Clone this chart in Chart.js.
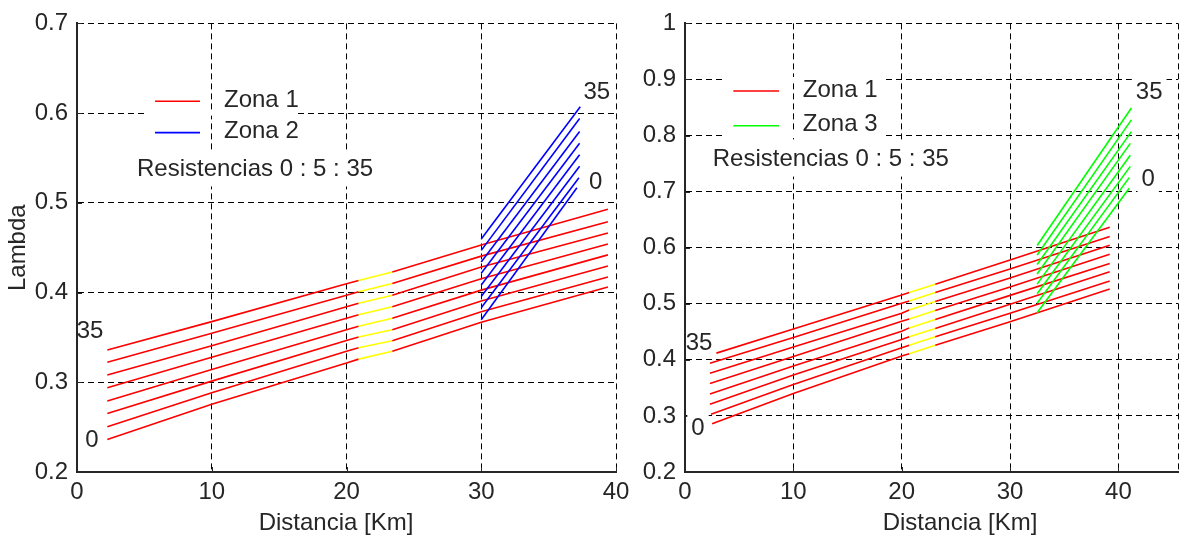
<!DOCTYPE html>
<html lang="es">
<head>
<meta charset="utf-8">
<title>Lambda vs Distancia</title>
<script src="https://cdn.jsdelivr.net/npm/chart.js@4.4.1/dist/chart.umd.min.js"></script>
<style>
  html, body { margin: 0; padding: 0; background: #fff; }
  body { width: 1182px; height: 539px; position: relative; overflow: hidden; }
  canvas { position: absolute; top: 0; }
  #graficoIzq { left: 0; }
  #graficoDer { left: 630px; }
</style>
</head>
<body>
<canvas id="graficoIzq" width="640" height="539"></canvas>
<canvas id="graficoDer" width="552" height="539"></canvas>
<script>
// Resistencias de falla de cada curva (0 : 5 : 35); las filas de las tablas siguen este orden
const resistencias = [0, 5, 10, 15, 20, 25, 30, 35];

// ---------- Gráfico izquierdo: Zona 1 y Zona 2 ----------
const distZona1Izq = [2.25, 10, 20, 20.9, 23.4, 30, 39.4];
const lambdaZona1Izq = [
  [0.2362, 0.2756, 0.3216, 0.3258, 0.3345, 0.3669, 0.4063],
  [0.2505, 0.2884, 0.3345, 0.3385, 0.3463, 0.3787, 0.4173],
  [0.2651, 0.3013, 0.3466, 0.3505, 0.3585, 0.3905, 0.4295],
  [0.2792, 0.3142, 0.3585, 0.3625, 0.3713, 0.4027, 0.4420],
  [0.2939, 0.3279, 0.3713, 0.3752, 0.3842, 0.4155, 0.4541],
  [0.3080, 0.3408, 0.3842, 0.3880, 0.3971, 0.4284, 0.4663],
  [0.3223, 0.3547, 0.3971, 0.4008, 0.4100, 0.4406, 0.4789],
  [0.3359, 0.3676, 0.4099, 0.4135, 0.4229, 0.4531, 0.4928]
];
const tramoAmarilloIzq = [20.9, 23.4];
const distZona2IniIzq = [30, 30, 30, 30, 30, 30, 30, 30];
const distZona2FinIzq = [37.1, 37.25, 37.3, 37.3, 37.3, 37.3, 37.3, 37.35];
const lambdaZona2IniIzq = [0.3698, 0.3830, 0.3955, 0.4085, 0.4215, 0.4340, 0.4470, 0.4597];
const lambdaZona2FinIzq = [0.5168, 0.5279, 0.5408, 0.5536, 0.5665, 0.5795, 0.5940, 0.6070];

// ---------- Gráfico derecho: Zona 1 y Zona 3 ----------
const distZona1IniDer = [2.5, 2.4, 2.3, 2.3, 2.3, 2.3, 2.3, 2.9];
const distZona1Der = [10, 20, 20.7, 23.1, 30, 39.2];
const lambdaZona1Der = [
  [0.286, 0.340, 0.4068, 0.411, 0.426, 0.468, 0.5264],
  [0.303, 0.356, 0.4215, 0.426, 0.441, 0.483, 0.5406],
  [0.321, 0.373, 0.4363, 0.441, 0.456, 0.499, 0.5570],
  [0.339, 0.389, 0.4510, 0.457, 0.472, 0.515, 0.5717],
  [0.358, 0.406, 0.4687, 0.473, 0.488, 0.530, 0.5882],
  [0.376, 0.423, 0.4833, 0.489, 0.504, 0.546, 0.6042],
  [0.394, 0.440, 0.5010, 0.505, 0.520, 0.562, 0.6201],
  [0.412, 0.455, 0.5158, 0.520, 0.535, 0.578, 0.6365]
];
const tramoAmarilloDer = [20.7, 23.1];
const distZona3IniDer = [32.5, 32.5, 32.5, 32.5, 32.5, 32.5, 32.5, 32.5];
const distZona3FinDer = [41.0, 41.0, 41.1, 41.1, 41.1, 41.2, 41.2, 41.2];
const lambdaZona3IniDer = [0.484, 0.501, 0.518, 0.535, 0.553, 0.570, 0.587, 0.604];
const lambdaZona3FinDer = [0.706, 0.725, 0.745, 0.765, 0.786, 0.807, 0.828, 0.849];

// ---------- Marcas de los ejes ----------
const ticksDistancia = [0, 10, 20, 30, 40];
const ticksLambdaIzq = [0.2, 0.3, 0.4, 0.5, 0.6, 0.7];
const ticksLambdaDer = [0.2, 0.3, 0.4, 0.5, 0.6, 0.7, 0.8, 0.9, 1];

// ---------- Estilo ----------
const ROJO = '#ff0000', AZUL = '#0000ff', VERDE = '#00ff00', AMARILLO = '#ffff00';
const TINTA = '#262626';
const FUENTE = '"Liberation Sans", Arial, Helvetica, sans-serif';
const TAM = 24;
const GUION = [6, 4];
const ANCHO_LINEA = 1.6;
const LARGO_MARCA = 5;

Chart.defaults.font.family = FUENTE;
Chart.defaults.font.size = TAM;
Chart.defaults.color = TINTA;

// Curvas de Zona 1: tramo central en amarillo
function curvasZona1(distPorFila, filas, tramo) {
  return filas.map((fila, i) => ({
    label: 'Zona 1 R=' + resistencias[i],
    data: distPorFila[i].map((d, j) => ({ x: d, y: fila[j] })),
    borderColor: ROJO,
    segment: {
      borderColor: c => (c.p0.parsed.x >= tramo[0] - 1e-9 && c.p1.parsed.x <= tramo[1] + 1e-9) ? AMARILLO : undefined
    }
  }));
}

// Curvas rectas de Zona 2 / Zona 3 (inicio y fin)
function curvasRectas(nombre, color, dIni, dFin, lIni, lFin) {
  return lIni.map((v, i) => ({
    label: nombre + ' R=' + resistencias[i],
    data: [{ x: dIni[i], y: v }, { x: dFin[i], y: lFin[i] }],
    borderColor: color
  }));
}

// Textos, leyenda, marcas interiores y máscaras blancas
const anotaciones = {
  id: 'anotaciones',
  beforeDatasetsDraw(chart, args, o) {
    const ctx = chart.ctx, xs = chart.scales.x, ys = chart.scales.y, area = chart.chartArea;
    ctx.save();
    // borde derecho discontinuo cuando no coincide con una marca
    if (o.bordeDerecho) {
      ctx.strokeStyle = '#000';
      ctx.lineWidth = 1;
      ctx.setLineDash(GUION);
      const xr = Math.round(area.right) + 0.5;
      ctx.beginPath(); ctx.moveTo(xr, area.top); ctx.lineTo(xr, area.bottom); ctx.stroke();
      ctx.setLineDash([]);
    }
    // marcas cortas hacia dentro en los ejes izquierdo e inferior
    ctx.strokeStyle = TINTA;
    ctx.lineWidth = 1;
    ctx.beginPath();
    xs.ticks.forEach(t => {
      const px = Math.round(xs.getPixelForValue(t.value)) + 0.5;
      ctx.moveTo(px, area.bottom); ctx.lineTo(px, area.bottom - LARGO_MARCA);
    });
    ys.ticks.forEach(t => {
      const py = Math.round(ys.getPixelForValue(t.value)) + 0.5;
      ctx.moveTo(area.left, py); ctx.lineTo(area.left + LARGO_MARCA, py);
    });
    ctx.stroke();

    ctx.fillStyle = '#ffffff';
    // la leyenda tapa las líneas horizontales de la rejilla
    const m = o.leyenda.mascara;
    m.ys.forEach(v => {
      const py = ys.getPixelForValue(v);
      const a = xs.getPixelForValue(m.x0), b = xs.getPixelForValue(m.x1);
      ctx.fillRect(a, py - 2.5, b - a, 5);
    });
    // fondo blanco de los textos
    ctx.font = TAM + 'px ' + FUENTE;
    o.textos.forEach(t => {
      if (!t.fondo) return;
      const w = ctx.measureText(t.t).width;
      const px = xs.getPixelForValue(t.x), py = ys.getPixelForValue(t.y);
      let x0 = t.align === 'left' ? px - 4 : px - w / 2 - 4;
      const h = t.alto || 30;
      x0 = Math.max(x0, area.left + 2);
      const x1 = Math.min((t.align === 'left' ? px + w : px + w / 2) + 4, area.right - 2);
      ctx.fillRect(x0, py - h / 2, x1 - x0, h);
    });
    ctx.restore();
  },
  afterDraw(chart, args, o) {
    const ctx = chart.ctx, xs = chart.scales.x, ys = chart.scales.y;
    ctx.save();
    ctx.font = TAM + 'px ' + FUENTE;
    ctx.fillStyle = TINTA;
    ctx.textBaseline = 'middle';
    o.textos.forEach(t => {
      ctx.textAlign = t.align || 'center';
      ctx.fillText(t.t, xs.getPixelForValue(t.x), ys.getPixelForValue(t.y));
    });
    const L = o.leyenda;
    L.items.forEach(it => {
      const py = ys.getPixelForValue(it.y);
      ctx.strokeStyle = it.c;
      ctx.lineWidth = ANCHO_LINEA;
      ctx.beginPath();
      ctx.moveTo(xs.getPixelForValue(L.x0), py);
      ctx.lineTo(xs.getPixelForValue(L.x1), py);
      ctx.stroke();
      ctx.textAlign = 'left';
      ctx.fillText(it.t, xs.getPixelForValue(L.xTexto), py - 1);
    });
    ctx.textAlign = 'center';
    ctx.fillText(o.tituloX.t, o.tituloX.cx, o.tituloX.cy);
    ctx.restore();
  }
};

function opcionesEjes(maxX, minY, maxY, ticksY, anchoY, tituloY) {
  const etiqueta = v => String(+(+v).toFixed(1));
  return {
    x: {
      type: 'linear', min: 0, max: maxX,
      afterBuildTicks: s => { s.ticks = ticksDistancia.map(v => ({ value: v })); },
      afterFit: s => { s.height = 67; },
      ticks: { callback: etiqueta, padding: 6, maxRotation: 0, autoSkip: false },
      grid: { color: '#000', lineWidth: 1, drawTicks: false },
      border: { display: true, color: TINTA, width: 2, dash: GUION }
    },
    y: {
      type: 'linear', min: minY, max: maxY,
      afterBuildTicks: s => { s.ticks = ticksY.map(v => ({ value: v })); },
      afterFit: s => { s.width = anchoY; },
      ticks: { callback: etiqueta, padding: 9, autoSkip: false },
      grid: { color: '#000', lineWidth: 1, drawTicks: false },
      border: { display: true, color: TINTA, width: 2, dash: GUION },
      title: tituloY ? { display: true, text: tituloY, padding: { top: 4, bottom: 0 } } : { display: false }
    }
  };
}

function crearGrafico(id, datasets, escalas, padding, notas) {
  return new Chart(document.getElementById(id), {
    type: 'scatter',
    data: { datasets },
    options: {
      responsive: false,
      animation: false,
      events: [],
      layout: { padding },
      datasets: {
        scatter: { showLine: true, pointRadius: 0, pointHoverRadius: 0, borderWidth: ANCHO_LINEA, tension: 0, fill: false }
      },
      scales: escalas,
      plugins: { legend: { display: false }, tooltip: { enabled: false }, anotaciones: notas }
    },
    plugins: [anotaciones]
  });
}

// ---------- Gráfico izquierdo ----------
crearGrafico('graficoIzq',
  [
    ...curvasRectas('Zona 2', AZUL, distZona2IniIzq, distZona2FinIzq, lambdaZona2IniIzq, lambdaZona2FinIzq),
    ...curvasZona1(lambdaZona1Izq.map(() => distZona1Izq), lambdaZona1Izq, tramoAmarilloIzq)
  ],
  opcionesEjes(40, 0.2, 0.7, ticksLambdaIzq, 77, 'Lambda'),
  { top: 19, right: 24, bottom: 0, left: 0 },
  {
    bordeDerecho: false,
    textos: [
      { t: '35', x: 0.97, y: 0.357, fondo: true },
      { t: '0', x: 1.1, y: 0.235, fondo: true },
      { t: '35', x: 38.57, y: 0.6234, fondo: true },
      { t: '0', x: 38.5, y: 0.5223, fondo: true },
      { t: 'Resistencias 0 : 5 : 35', x: 4.45, y: 0.5378, align: 'left', fondo: true, alto: 35 }
    ],
    leyenda: {
      x0: 5.79, x1: 9.13, xTexto: 10.91,
      items: [{ t: 'Zona 1', c: ROJO, y: 0.6133 }, { t: 'Zona 2', c: AZUL, y: 0.5783 }],
      mascara: { x0: 5.27, x1: 16.4, ys: [0.6] }
    },
    tituloX: { t: 'Distancia [Km]', cx: 336, cy: 523 }
  }
);

// ---------- Gráfico derecho ----------
crearGrafico('graficoDer',
  [
    ...curvasRectas('Zona 3', VERDE, distZona3IniDer, distZona3FinDer, lambdaZona3IniDer, lambdaZona3FinDer),
    ...curvasZona1(distZona1IniDer.map(d0 => [d0, ...distZona1Der]), lambdaZona1Der, tramoAmarilloDer)
  ],
  opcionesEjes(45.5, 0.2, 1, ticksLambdaDer, 55, null),
  { top: 19, right: 4, bottom: 0, left: 0 },
  {
    bordeDerecho: true,
    textos: [
      { t: '35', x: 1.29, y: 0.430, fondo: true },
      { t: '0', x: 1.2, y: 0.2777, fondo: true },
      { t: '35', x: 42.84, y: 0.8764, fondo: true },
      { t: '0', x: 42.75, y: 0.721, fondo: true },
      { t: 'Resistencias 0 : 5 : 35', x: 2.56, y: 0.758, align: 'left', fondo: true, alto: 35 }
    ],
    leyenda: {
      x0: 4.46, x1: 8.68, xTexto: 10.87,
      items: [{ t: 'Zona 1', c: ROJO, y: 0.8794 }, { t: 'Zona 3', c: VERDE, y: 0.8176 }],
      mascara: { x0: 3.51, x1: 18.19, ys: [0.9, 0.8] }
    },
    tituloX: { t: 'Distancia [Km]', cx: 330, cy: 523 }
  }
);
</script>
</body>
</html>
